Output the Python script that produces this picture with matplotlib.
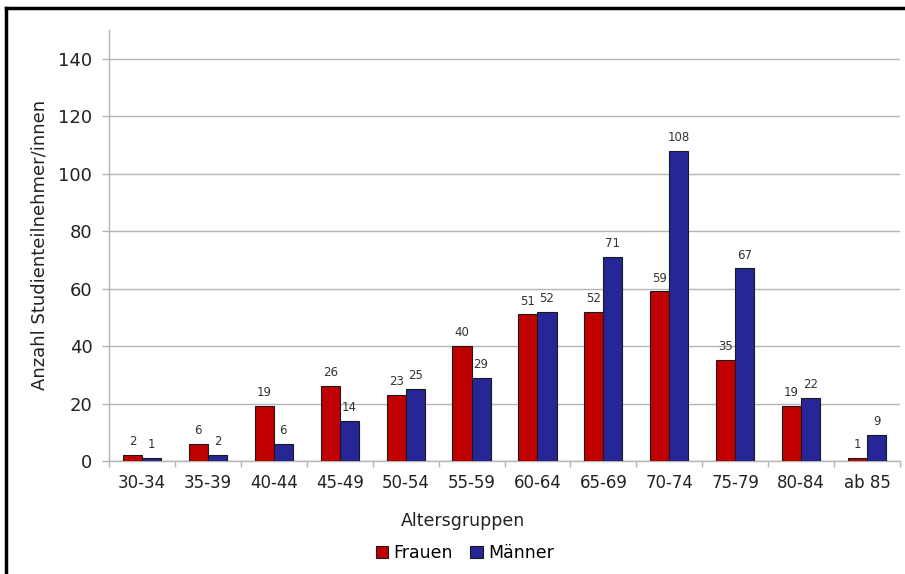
import matplotlib
matplotlib.use("Agg")
import matplotlib.pyplot as plt
from matplotlib.lines import Line2D
from matplotlib.patches import Patch
import numpy as np

plt.rcParams['font.family'] = ['DejaVu Sans']

categories = ["30-34", "35-39", "40-44", "45-49", "50-54", "55-59",
              "60-64", "65-69", "70-74", "75-79", "80-84", "ab 85"]
frauen = [2, 6, 19, 26, 23, 40, 51, 52, 59, 35, 19, 1]
maenner = [1, 2, 6, 14, 25, 29, 52, 71, 108, 67, 22, 9]
y_ticks = [0, 20, 40, 60, 80, 100, 120, 140]

red = "#C00000"
blue = "#262696"
grid_col = "#B4B4B4"
text_col = "#222222"

fig = plt.figure(figsize=(9.05, 5.74), dpi=100)
ax = fig.add_axes([109 / 905, 1 - 461 / 574, (900 - 109) / 905, (461 - 30) / 574])

x = np.arange(len(categories))
w = 0.29
bf = ax.bar(x + 0.5 - w / 2, frauen, w, color=red, edgecolor="#1a1a1a", linewidth=0.8, zorder=3)
bm = ax.bar(x + 0.5 + w / 2, maenner, w, color=blue, edgecolor="#1a1a1a", linewidth=0.8, zorder=3)

for bars, vals in ((bf, frauen), (bm, maenner)):
    for b, v in zip(bars, vals):
        ax.annotate(str(v), (b.get_x() + b.get_width() / 2, v), xytext=(0, 5),
                    textcoords="offset points", ha="center", va="bottom",
                    fontsize=8.5, color="#333333")

ax.set_xlim(0, len(categories))
ax.set_ylim(0, 150)
ax.set_yticks(y_ticks)
ax.set_xticks(np.arange(len(categories) + 1))
ax.set_xticklabels([])
ax.set_xticks(x + 0.5, minor=True)
ax.set_xticklabels(categories, minor=True, fontsize=12, color=text_col)
ax.tick_params(axis="x", which="major", length=4, width=1, color=grid_col, direction="out")
ax.tick_params(axis="x", which="minor", length=0, pad=9)
ax.tick_params(axis="y", length=5, width=1, color=grid_col, pad=7, labelsize=13, labelcolor=text_col)

ax.yaxis.grid(True, color=grid_col, linewidth=1, zorder=0)
ax.set_axisbelow(True)
for s in ("top", "right"):
    ax.spines[s].set_visible(False)
for s in ("left", "bottom"):
    ax.spines[s].set_color(grid_col)
    ax.spines[s].set_linewidth(1)

fig.text(463 / 905, 1 - 521 / 574, "Altersgruppen", ha="center", va="center",
         fontsize=12.5, color=text_col)
fig.text(40 / 905, 1 - 245 / 574, "Anzahl Studienteilnehmer/innen", ha="center", va="center",
         rotation=90, fontsize=13, color=text_col)

handles = [Patch(facecolor=red, edgecolor="#1a1a1a", linewidth=0.8, label="Frauen"),
           Patch(facecolor=blue, edgecolor="#1a1a1a", linewidth=0.8, label="Männer")]
fig.legend(handles=handles, loc="center", bbox_to_anchor=(465 / 905, 1 - 553 / 574),
           ncol=2, frameon=False, fontsize=12.5, handlelength=0.7, handleheight=0.7,
           handletextpad=0.3, columnspacing=1.0, borderaxespad=0)

# outer frame (left and top edges)
fig.add_artist(Line2D([6 / 905, 6 / 905], [0, 1 - 8 / 574], transform=fig.transFigure,
                      color="black", linewidth=2.5))
fig.add_artist(Line2D([6 / 905, 1], [1 - 8 / 574, 1 - 8 / 574], transform=fig.transFigure,
                      color="black", linewidth=2.5))

fig.savefig("out.png", dpi=100)
